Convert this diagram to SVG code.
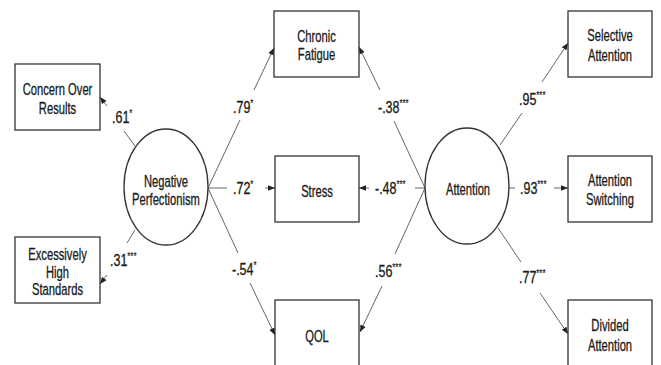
<svg xmlns="http://www.w3.org/2000/svg" width="661" height="365" viewBox="0 0 661 365">
<style>
.box{fill:#fff;stroke:#333;stroke-width:1.3}
.lat{fill:#fff;stroke:#333;stroke-width:1.3}
.t{font-family:"Liberation Sans",Arial,sans-serif;font-size:16px;fill:#1a1a1a;stroke:#1a1a1a;stroke-width:0.3;text-anchor:middle}
.l{font-family:"Liberation Sans",Arial,sans-serif;font-size:16px;fill:#1a1a1a;stroke:#1a1a1a;stroke-width:0.3}
.s{font-size:10px;stroke-width:0.2}
.c line{stroke:#666;stroke-width:1}
</style>
<defs>
<marker id="ah" viewBox="0 0 10 10" refX="10" refY="5" markerWidth="7" markerHeight="7" orient="auto" markerUnits="userSpaceOnUse">
<path d="M0,1 L10,5 L0,9 z" fill="#222"/>
</marker>
</defs>
<rect width="661" height="365" fill="#fff"/>
<g class="c" id="connectors">
<line x1="135" y1="146" x2="124" y2="131"/>
<line x1="107" y1="106" x2="100" y2="97" marker-end="url(#ah)"/>
<line x1="135" y1="230" x2="127" y2="243"/>
<line x1="107" y1="275" x2="100" y2="284" marker-end="url(#ah)"/>
<line x1="208" y1="188" x2="240" y2="120"/>
<line x1="254" y1="90" x2="274" y2="48" marker-end="url(#ah)"/>
<line x1="208" y1="188" x2="227" y2="188"/>
<line x1="265" y1="188" x2="275" y2="188" marker-end="url(#ah)"/>
<line x1="208" y1="188" x2="238" y2="253"/>
<line x1="250" y1="283" x2="275" y2="335" marker-end="url(#ah)"/>
<line x1="425" y1="188" x2="394" y2="121"/>
<line x1="380" y1="90" x2="359" y2="47" marker-end="url(#ah)"/>
<line x1="425" y1="188" x2="415" y2="188"/>
<line x1="369" y1="188" x2="359" y2="188" marker-end="url(#ah)"/>
<line x1="425" y1="188" x2="395" y2="254"/>
<line x1="382" y1="286" x2="360" y2="332" marker-end="url(#ah)"/>
<line x1="500" y1="145" x2="522" y2="113"/>
<line x1="542" y1="82" x2="568" y2="43" marker-end="url(#ah)"/>
<line x1="509" y1="188" x2="515" y2="188"/>
<line x1="554" y1="188" x2="568" y2="188" marker-end="url(#ah)"/>
<line x1="498" y1="228" x2="521" y2="262"/>
<line x1="540" y1="293" x2="568" y2="334" marker-end="url(#ah)"/>
</g>
<g id="labels">
<text class="l" transform="translate(112,123) scale(0.78,1)">.61<tspan class="s" dy="-6">*</tspan></text>
<text class="l" transform="translate(110,266) scale(0.78,1)">.31<tspan class="s" dy="-6">***</tspan></text>
<text class="l" transform="translate(233,113) scale(0.78,1)">.79<tspan class="s" dy="-6">*</tspan></text>
<text class="l" transform="translate(233,194) scale(0.78,1)">.72<tspan class="s" dy="-6">*</tspan></text>
<text class="l" transform="translate(232,275) scale(0.78,1)">-.54<tspan class="s" dy="-6">*</tspan></text>
<text class="l" transform="translate(378,113) scale(0.78,1)">-.38<tspan class="s" dy="-6">***</tspan></text>
<text class="l" transform="translate(375,194) scale(0.78,1)">-.48<tspan class="s" dy="-6">***</tspan></text>
<text class="l" transform="translate(375,277) scale(0.78,1)">.56<tspan class="s" dy="-6">***</tspan></text>
<text class="l" transform="translate(519,105) scale(0.78,1)">.95<tspan class="s" dy="-6">***</tspan></text>
<text class="l" transform="translate(520,194) scale(0.78,1)">.93<tspan class="s" dy="-6">***</tspan></text>
<text class="l" transform="translate(519,283) scale(0.78,1)">.77<tspan class="s" dy="-6">***</tspan></text>
</g>
<g id="concern">
<rect class="box" x="15" y="64" width="85" height="66"/>
<text class="t" transform="translate(57.5,95) scale(0.7,1)">Concern Over</text>
<text class="t" transform="translate(57.5,114) scale(0.7,1)">Results</text>
</g>
<g id="excessive">
<rect class="box" x="15" y="237" width="85" height="66"/>
<text class="t" transform="translate(57.5,260) scale(0.7,1)">Excessively</text>
<text class="t" transform="translate(57.5,278) scale(0.7,1)">High</text>
<text class="t" transform="translate(57.5,295) scale(0.7,1)">Standards</text>
</g>
<g id="negperf">
<ellipse class="lat" cx="166" cy="187" rx="42" ry="58"/>
<text class="t" transform="translate(166,187) scale(0.7,1)">Negative</text>
<text class="t" transform="translate(166,205) scale(0.7,1)">Perfectionism</text>
</g>
<g id="fatigue">
<rect class="box" x="274" y="11" width="85" height="66"/>
<text class="t" transform="translate(316.5,42) scale(0.7,1)">Chronic</text>
<text class="t" transform="translate(316.5,60) scale(0.7,1)">Fatigue</text>
</g>
<g id="stress">
<rect class="box" x="275" y="156" width="84" height="66"/>
<text class="t" transform="translate(317,197) scale(0.7,1)">Stress</text>
</g>
<g id="qol">
<rect class="box" x="275" y="300" width="84" height="66"/>
<text class="t" transform="translate(317,342) scale(0.7,1)">QOL</text>
</g>
<g id="attention">
<ellipse class="lat" cx="467" cy="186" rx="42" ry="58"/>
<text class="t" transform="translate(468,195) scale(0.7,1)">Attention</text>
</g>
<g id="selective">
<rect class="box" x="568" y="11" width="84" height="66"/>
<text class="t" transform="translate(610,41) scale(0.7,1)">Selective</text>
<text class="t" transform="translate(610,61) scale(0.7,1)">Attention</text>
</g>
<g id="switching">
<rect class="box" x="568" y="156" width="84" height="66"/>
<text class="t" transform="translate(610,186) scale(0.7,1)">Attention</text>
<text class="t" transform="translate(610,205) scale(0.7,1)">Switching</text>
</g>
<g id="divided">
<rect class="box" x="568" y="300" width="84" height="66"/>
<text class="t" transform="translate(610,331) scale(0.7,1)">Divided</text>
<text class="t" transform="translate(610,351) scale(0.7,1)">Attention</text>
</g>
</svg>
